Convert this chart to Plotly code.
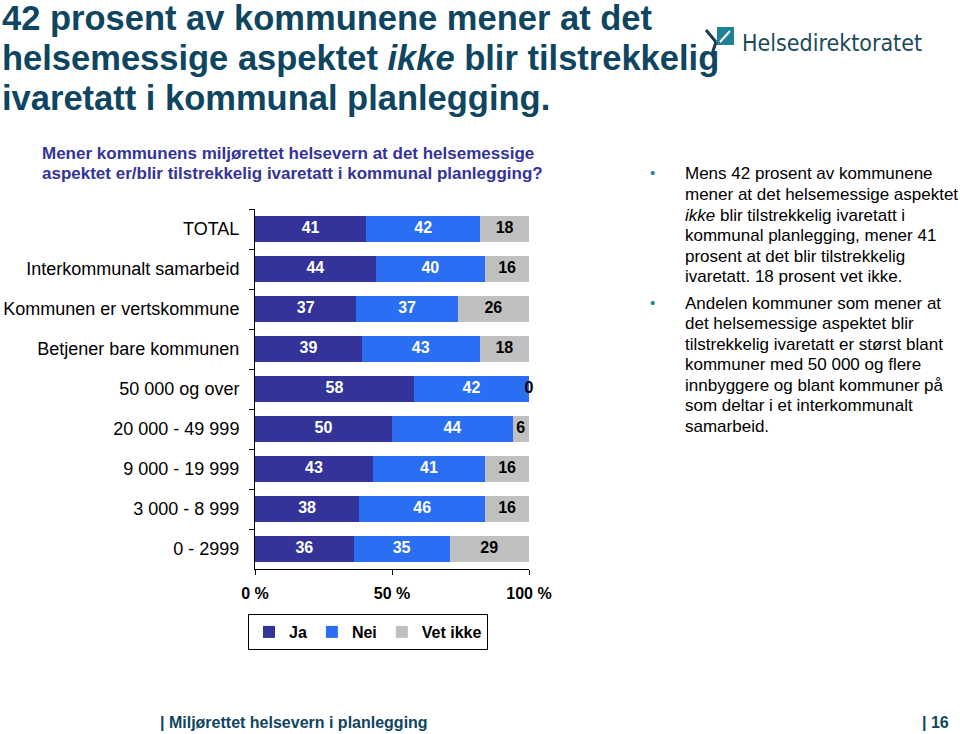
import plotly.graph_objects as go

# ---------------- data ----------------
categories = ["TOTAL", "Interkommunalt samarbeid", "Kommunen er vertskommune",
              "Betjener bare kommunen", "50 000 og over", "20 000 - 49 999",
              "9 000 - 19 999", "3 000 - 8 999", "0 - 2999"]
ja = [41, 44, 37, 39, 58, 50, 43, 38, 36]
nei = [42, 40, 37, 43, 42, 44, 41, 46, 35]
vet_ikke = [18, 16, 26, 18, 0, 6, 16, 16, 29]
series_names = ["Ja", "Nei", "Vet ikke"]
x_tick_values = [0, 50, 100]
x_tick_labels = ["0 %", "50 %", "100 %"]

title_lines = ["42 prosent av kommunene mener at det",
               "helsemessige aspektet <i>ikke</i> blir tilstrekkelig",
               "ivaretatt i kommunal planlegging."]
subtitle_lines = ["Mener kommunens miljørettet helsevern at det helsemessige",
                  "aspektet er/blir tilstrekkelig ivaretatt i kommunal planlegging?"]
bullet1 = ["Mens 42 prosent av kommunene",
           "mener at det helsemessige aspektet",
           "<i>ikke</i> blir tilstrekkelig ivaretatt i",
           "kommunal planlegging, mener 41",
           "prosent at det blir tilstrekkelig",
           "ivaretatt. 18 prosent vet ikke."]
bullet2 = ["Andelen kommuner som mener at",
           "det helsemessige aspektet blir",
           "tilstrekkelig ivaretatt er størst blant",
           "kommuner med 50 000 og flere",
           "innbyggere og blant kommuner på",
           "som deltar i et interkommunalt",
           "samarbeid."]
footer_left = "| Miljørettet helsevern i planlegging"
footer_right = "| 16"
logo_text = "Helsedirektoratet"

# ---------------- style ----------------
W, H = 960, 734
PL, PR, PT, PB = 255, 529, 209, 569   # plot area in pixels
FONT = "Liberation Sans, Arial, sans-serif"
colors = ["#333399", "#2A6EF4", "#C0C0C0"]
text_colors = ["white", "white", "black"]
TEAL_DARK = "#0E4560"
TEAL = "#1D8296"


def px(x):
    return (x - PL) / (PR - PL)


def py(y):
    return (PB - y) / (PB - PT)


fig = go.Figure()
series = [ja, nei, vet_ikke]
for name, vals, col in zip(series_names, series, colors):
    fig.add_trace(go.Bar(
        y=categories, x=vals, name=name, orientation="h",
        marker=dict(color=col, line=dict(width=0)),
        hoverinfo="x+y+name",
    ))

# value labels, centred in each (normalised) segment
lx, ly, lt, lc = [], [], [], []
for i, cat in enumerate(categories):
    tot = sum(s[i] for s in series)
    cum = 0
    for s, tc in zip(series, text_colors):
        v = s[i]
        lx.append((cum + v / 2) / tot * 100)
        ly.append(cat)
        lt.append(str(v))
        lc.append(tc)
        cum += v
fig.add_trace(go.Scatter(
    x=lx, y=ly, text=lt, mode="text", showlegend=False, hoverinfo="skip",
    cliponaxis=False,
    textfont=dict(family=FONT, size=16, color=lc, weight="bold"),
))

fig.update_layout(
    width=W, height=H,
    margin=dict(l=PL, r=W - PR, t=PT, b=H - PB, autoexpand=False),
    paper_bgcolor="white", plot_bgcolor="white",
    barmode="stack", barnorm="percent", bargap=0.35,
    font=dict(family=FONT, color="black"),
    showlegend=True,
    legend=dict(
        orientation="h", x=px(248), y=py(614), xanchor="left", yanchor="top",
        bordercolor="black", borderwidth=1, bgcolor="white",
        font=dict(family=FONT, size=16, color="black", weight="bold"),
        itemwidth=30, traceorder="normal", tracegroupgap=0,
    ),
    xaxis=dict(
        range=[0, 100], tickvals=x_tick_values, ticktext=x_tick_labels,
        showgrid=False, zeroline=False, showline=True, linecolor="black",
        linewidth=1, ticks="outside", ticklen=5, tickcolor="black",
        tickfont=dict(family=FONT, size=16, color="black", weight="bold"),
        ticklabelstandoff=5, fixedrange=True,
    ),
    yaxis=dict(
        categoryorder="array", categoryarray=categories,
        range=[len(categories) - 0.5, -0.5],
        showgrid=False, zeroline=False, showline=True, linecolor="black",
        linewidth=1, ticks="outside", ticklen=5, tickcolor="black",
        tickson="boundaries",
        tickfont=dict(family=FONT, size=18, color="black"),
        ticklabelstandoff=11, fixedrange=True,
    ),
)

ann = []
# title
for k, line in enumerate(title_lines):
    ann.append(dict(text=line, x=px(0), y=py(18 + 40 * k), xanchor="left",
                    yanchor="middle",
                    font=dict(family=FONT, size=34.5, color=TEAL_DARK, weight="bold")))
# subtitle
for k, line in enumerate(subtitle_lines):
    ann.append(dict(text=line, x=px(40), y=py(153 + 21 * k), xanchor="left",
                    yanchor="middle",
                    font=dict(family=FONT, size=17, color="#333399", weight="bold")))
# bullets
for start, lines in [(174, bullet1), (303, bullet2)]:
    ann.append(dict(text="•", x=px(648), y=py(start - 1), xanchor="left",
                    yanchor="middle", font=dict(family=FONT, size=15, color=TEAL)))
    for k, line in enumerate(lines):
        ann.append(dict(text=line, x=px(683), y=py(start + 20.5 * k),
                        xanchor="left", yanchor="middle",
                        font=dict(family=FONT, size=17, color="black")))
# logo text
ann.append(dict(text=logo_text, x=px(740), y=py(43), xanchor="left", yanchor="middle",
                font=dict(family="Liberation Sans Narrow, DejaVu Sans Condensed, sans-serif",
                          size=23, color="#1B4A5C")))
# footer
ann.append(dict(text=footer_left, x=px(158), y=py(722), xanchor="left", yanchor="middle",
                font=dict(family=FONT, size=16, color=TEAL_DARK, weight="bold")))
ann.append(dict(text=footer_right, x=px(920), y=py(722), xanchor="left", yanchor="middle",
                font=dict(family=FONT, size=16, color=TEAL_DARK, weight="bold")))
for a in ann:
    a.update(xref="paper", yref="paper", showarrow=False)
fig.update_layout(annotations=ann)

# logo icon (decorative)
shapes = [
    dict(type="rect", x0=px(717), x1=px(734), y0=py(27), y1=py(45),
         fillcolor=TEAL, line=dict(width=0)),
    dict(type="line", x0=px(720), x1=px(730), y0=py(42), y1=py(31),
         line=dict(color="white", width=2)),
    dict(type="line", x0=px(706), x1=px(716), y0=py(30), y1=py(42),
         line=dict(color="#1B3A4A", width=3)),
    dict(type="line", x0=px(716), x1=px(712), y0=py(42), y1=py(54),
         line=dict(color="#1B3A4A", width=3)),
]
for s in shapes:
    s.update(xref="paper", yref="paper")
fig.update_layout(shapes=shapes)

fig.write_html(
    "out.html",
    config={"displayModeBar": False},
    post_script="document.body.style.margin='0';document.body.style.overflow='hidden';",
)
